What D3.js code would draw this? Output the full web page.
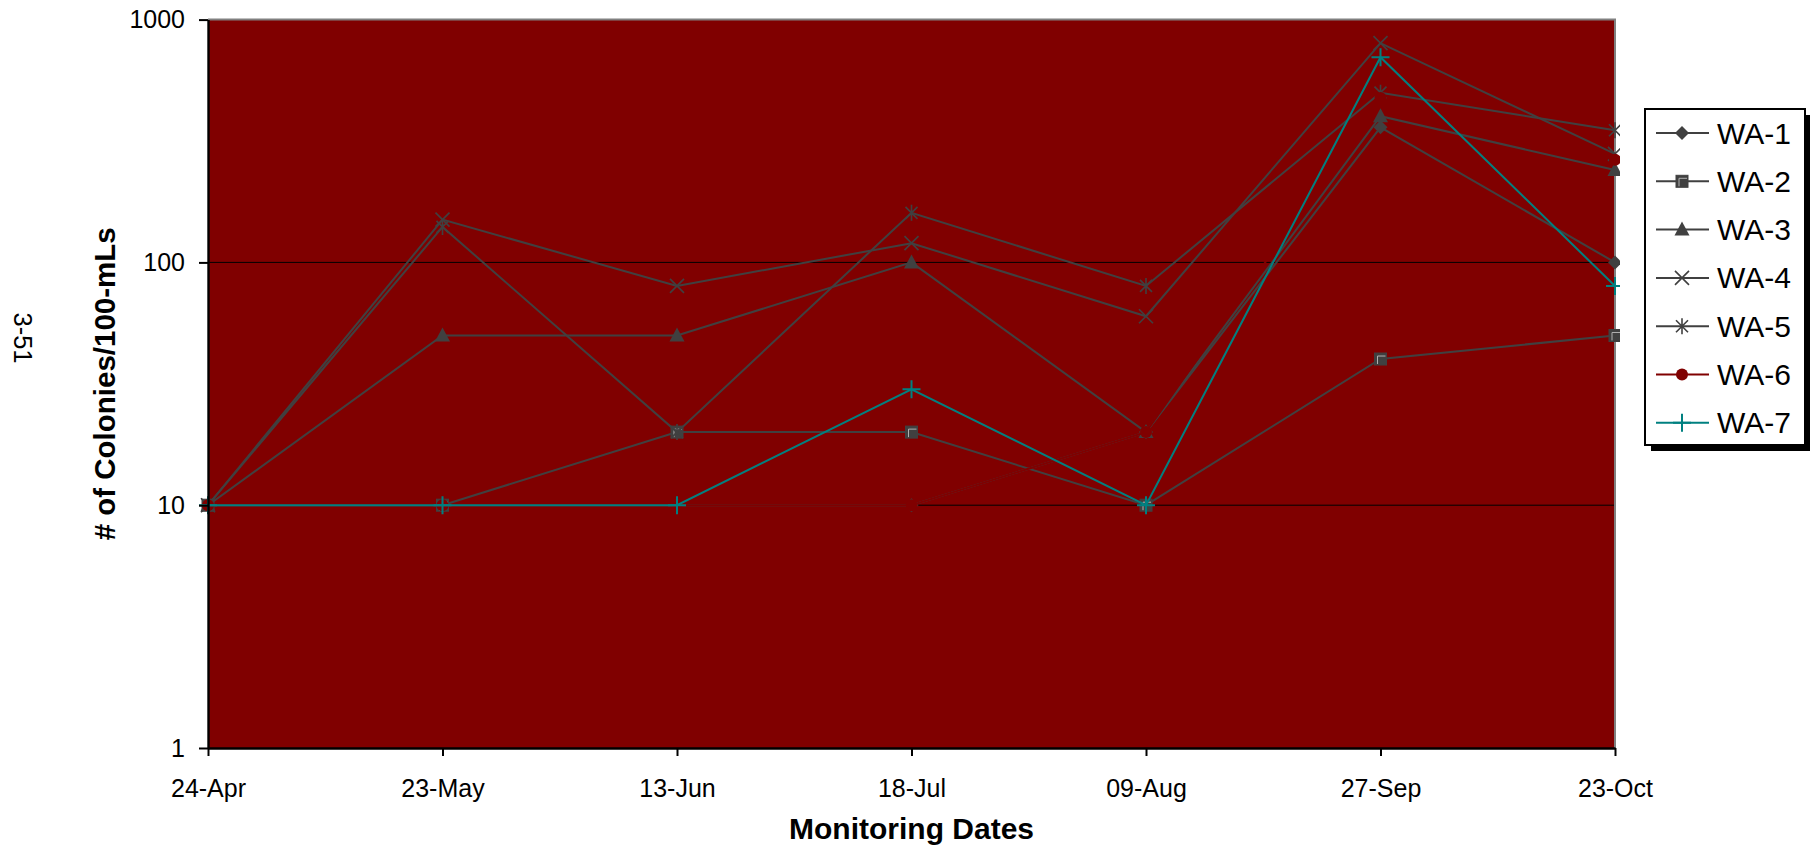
<!DOCTYPE html>
<html>
<head>
<meta charset="utf-8">
<script src="https://cdn.jsdelivr.net/npm/d3@7"></script>
<style>
  html, body { margin: 0; padding: 0; background: #ffffff; }
  svg { display: block; font-family: "Liberation Sans", Arial, sans-serif; }
</style>
</head>
<body>
<svg id="chart" width="1810" height="848"></svg>
<script>
// ---- data ----
const categories = ["24-Apr", "23-May", "13-Jun", "18-Jul", "09-Aug", "27-Sep", "23-Oct"];
const seriesNames = ["WA-1", "WA-2", "WA-3", "WA-4", "WA-5", "WA-6", "WA-7"];
const wa1 = [10, 10, 10, 10, 20, 360, 100];
const wa2 = [10, 10, 20, 20, 10, 40, 50];
const wa3 = [10, 50, 50, 100, 20, 400, 240];
const wa4 = [10, 150, 80, 120, 60, 800, 280];
const wa5 = [10, 140, 20, 160, 80, 500, 350];
const wa6 = [10, 10, 10, 10, 20, 475, 265];
const wa7 = [10, 10, 10, 30, 10, 700, 80];
const yTicks = [1, 10, 100, 1000];
const yTitle = "# of Colonies/100-mLs";
const xTitle = "Monitoring Dates";
const pageLabel = "3-51";

const seriesValues = [wa1, wa2, wa3, wa4, wa5, wa6, wa7];
const seriesMarkers = ["diamond", "square", "triangle", "x", "star", "circle", "plus"];
const seriesColors = ["#404040", "#404040", "#404040", "#404040", "#404040", "#800000", "#008080"];

// ---- layout ----
const L = 208, R = 1615, T = 19.6, B = 748;
const svg = d3.select("#chart");
const x = d3.scalePoint().domain(categories).range([L, R]).padding(0);
const y = d3.scaleLog().domain([1, 1000]).range([B, T]);

svg.append("defs").append("clipPath").attr("id", "mclip")
  .append("rect").attr("x", 0).attr("y", 0).attr("width", 1620).attr("height", 848);

// plot background
svg.append("rect").attr("x", L).attr("y", T).attr("width", R - L).attr("height", B - T)
  .attr("fill", "#800000");

// gridlines
svg.append("g").selectAll("line").data(yTicks.filter(d => d > 1 && d < 1000)).join("line")
  .attr("x1", L).attr("x2", R).attr("y1", d => y(d)).attr("y2", d => y(d))
  .attr("stroke", "#000").attr("stroke-width", 1);

// top & right border (gray)
svg.append("line").attr("x1", L).attr("x2", R + 1).attr("y1", T).attr("y2", T)
  .attr("stroke", "#808080").attr("stroke-width", 2);
svg.append("line").attr("x1", R).attr("x2", R).attr("y1", T).attr("y2", B)
  .attr("stroke", "#808080").attr("stroke-width", 2);

// marker drawing
function drawMarker(g, type, cx, cy, color) {
  const dark = "#404040";
  if (type === "diamond") {
    g.append("path").attr("d", `M${cx},${cy - 7}L${cx + 7},${cy}L${cx},${cy + 7}L${cx - 7},${cy}Z`)
      .attr("fill", dark);
  } else if (type === "square") {
    g.append("rect").attr("x", cx - 6).attr("y", cy - 6).attr("width", 12).attr("height", 12)
      .attr("fill", dark).attr("stroke", dark).attr("stroke-width", 1);
    g.append("path").attr("d", `M${cx - 3},${cy + 5}V${cy - 3}H${cx + 5}`)
      .attr("fill", "none").attr("stroke", "#b0b0b0").attr("stroke-width", 1);
  } else if (type === "triangle") {
    g.append("path").attr("d", `M${cx},${cy - 8}L${cx + 7.5},${cy + 6}L${cx - 7.5},${cy + 6}Z`)
      .attr("fill", dark);
  } else if (type === "x") {
    g.append("path").attr("d", `M${cx - 7},${cy - 7}L${cx + 7},${cy + 7}M${cx + 7},${cy - 7}L${cx - 7},${cy + 7}`)
      .attr("stroke", dark).attr("stroke-width", 1.6).attr("fill", "none");
  } else if (type === "star") {
    g.append("path").attr("d", `M${cx - 6},${cy - 6}L${cx + 6},${cy + 6}M${cx + 6},${cy - 6}L${cx - 6},${cy + 6}M${cx},${cy - 8}V${cy + 8}`)
      .attr("stroke", dark).attr("stroke-width", 1.6).attr("fill", "none");
  } else if (type === "circle") {
    g.append("circle").attr("cx", cx).attr("cy", cy).attr("r", 6).attr("fill", color);
  } else if (type === "plus") {
    g.append("path").attr("d", `M${cx - 9},${cy}H${cx + 9}M${cx},${cy - 9}V${cy + 9}`)
      .attr("stroke", color).attr("stroke-width", 2).attr("fill", "none");
  }
}

// series
const line = d3.line().x((d, i) => x(categories[i])).y(d => y(d));
seriesValues.forEach((vals, s) => {
  const g = svg.append("g").attr("clip-path", "url(#mclip)");
  g.append("path").attr("d", line(vals)).attr("fill", "none")
    .attr("stroke", seriesColors[s]).attr("stroke-width", 2);
  vals.forEach((v, i) => drawMarker(g, seriesMarkers[s], x(categories[i]), y(v), seriesColors[s]));
});

// axes
const yAxis = d3.axisLeft(y).tickValues(yTicks).tickFormat(d3.format("d"))
  .tickSize(9).tickSizeOuter(0).tickPadding(14);
const gy = svg.append("g").attr("transform", `translate(${L},0)`).call(yAxis);
const xAxis = d3.axisBottom(x).tickSize(8).tickSizeOuter(0).tickPadding(23);
const gx = svg.append("g").attr("transform", `translate(0,${B})`).call(xAxis);
[gx, gy].forEach(g => {
  g.select(".domain").attr("stroke", "#000").attr("stroke-width", 2.4);
  g.selectAll(".tick line").attr("stroke", "#000").attr("stroke-width", 2);
  g.selectAll(".tick text").attr("fill", "#000").attr("font-size", 25)
    .attr("font-family", "Liberation Sans, Arial, sans-serif");
});

// titles
svg.append("text").attr("transform", `translate(104,${(T + B) / 2}) rotate(-90)`)
  .attr("text-anchor", "middle").attr("dominant-baseline", "central")
  .attr("font-size", 29.5).attr("font-weight", "bold").text(yTitle);
svg.append("text").attr("x", (L + R) / 2).attr("y", 828)
  .attr("text-anchor", "middle").attr("dominant-baseline", "central")
  .attr("font-size", 30).attr("font-weight", "bold").text(xTitle);
svg.append("text").attr("transform", `translate(23,338) rotate(90)`)
  .attr("text-anchor", "middle").attr("dominant-baseline", "central")
  .attr("font-size", 25.5).text(pageLabel);

// legend
const lg = svg.append("g");
const LX = 1645, LY = 109, LW = 160, LH = 336;
lg.append("rect").attr("x", LX + 6).attr("y", LY + 6).attr("width", LW).attr("height", LH).attr("fill", "#000");
lg.append("rect").attr("x", LX).attr("y", LY).attr("width", LW).attr("height", LH)
  .attr("fill", "#fff").attr("stroke", "#000").attr("stroke-width", 2);
seriesNames.forEach((name, s) => {
  const cy = 133 + s * 48.3;
  lg.append("line").attr("x1", 1656).attr("x2", 1709).attr("y1", cy).attr("y2", cy)
    .attr("stroke", seriesColors[s]).attr("stroke-width", 2);
  drawMarker(lg, seriesMarkers[s], 1682, cy, seriesColors[s]);
  lg.append("text").attr("x", 1717).attr("y", cy).attr("dominant-baseline", "central")
    .attr("font-size", 30).attr("fill", "#000").text(name);
});
</script>
</body>
</html>
